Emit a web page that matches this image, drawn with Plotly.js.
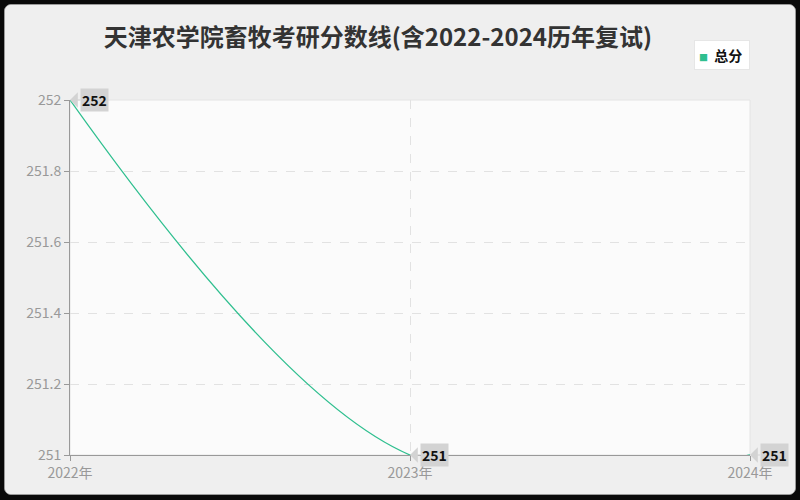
<!DOCTYPE html>
<html>
<head>
<meta charset="utf-8">
<script src="https://cdn.plot.ly/plotly-3.0.1.min.js"></script>
<style>
  html, body { margin: 0; padding: 0; background: #0a0a0a; }
  #frame {
    position: absolute; left: 4px; top: 4px;
    width: 790px; height: 489px;
    border: 1px solid #9a9a9a; border-radius: 7px;
    overflow: hidden; background: #efefef;
  }
</style>
</head>
<body>
<div id="frame"><div id="chart"></div></div>
<script>
// data
var years = [2022, 2023, 2024];
var yearLabels = ['2022年', '2023年', '2024年'];
var scores = [252, 251, 251];
var seriesName = '总分';
var titleText = '天津农学院畜牧考研分数线(含2022-2024历年复试)';

var green = '#2fbf8f';
var tagGray = '#d3d3d3';
var font = 'Noto Sans CJK SC, Noto Sans, sans-serif';

var line = {
    x: years, y: scores, type: 'scatter', mode: 'lines', name: seriesName,
    line: {color: green, width: 1.3, shape: 'spline', smoothing: 1},
    showlegend: false, hoverinfo: 'skip'
};

var annotations = [];
// value tags: grey box with a pointer aimed at the point
for (var i = 0; i < years.length; i++) {
    annotations.push({
        x: years[i], y: scores[i], xref: 'x', yref: 'y',
        text: '<b>' + scores[i] + '</b>',
        showarrow: true, arrowhead: 1, arrowsize: 2.6, arrowwidth: 1,
        arrowcolor: tagGray, standoff: 0, ax: 10, ay: 0,
        xanchor: 'left', yanchor: 'middle',
        bgcolor: tagGray, borderpad: 1,
        font: {family: font, size: 14, color: '#111'}
    });
}
// legend box (top right)
annotations.push({
    xref: 'paper', yref: 'paper', x: 1, y: 1.168, xanchor: 'right', yanchor: 'top',
    text: '<span style="color:' + green + ';font-size:9px">■</span>  <b>' + seriesName + '</b> ',
    showarrow: false, bgcolor: '#ffffff', bordercolor: '#e6e6e6', borderwidth: 1, borderpad: 4,
    font: {family: font, size: 14, color: '#111'}
});

var layout = {
    width: 790, height: 489,
    margin: {l: 65, r: 45, t: 95, b: 39},
    paper_bgcolor: '#efefef',
    plot_bgcolor: '#fbfbfb',
    font: {family: font},
    showlegend: false,
    title: {
        text: titleText, xref: 'container', x: 0.472, xanchor: 'center',
        yref: 'container', y: 0.934, yanchor: 'middle',
        font: {family: font, size: 24, color: '#333', weight: 'bold'}
    },
    xaxis: {
        range: [2022, 2024], tickvals: years, ticktext: yearLabels,
        showline: true, linecolor: '#999', linewidth: 1,
        ticks: 'outside', ticklen: 5, tickcolor: '#999',
        showgrid: true, gridcolor: '#e2e2e2', griddash: 'dash',
        zeroline: false, fixedrange: true,
        tickfont: {size: 14, color: '#999'}
    },
    yaxis: {
        range: [251, 252], dtick: 0.2,
        showline: true, linecolor: '#999', linewidth: 1,
        ticks: 'outside', ticklen: 5, tickcolor: '#999',
        showgrid: true, gridcolor: '#e2e2e2', griddash: 'dash',
        zeroline: false, fixedrange: true,
        tickfont: {size: 14, color: '#999'}
    },
    shapes: [{
        type: 'rect', xref: 'paper', yref: 'paper', x0: 0, x1: 1, y0: 0, y1: 1,
        line: {color: '#e4e4e4', width: 1}, layer: 'below'
    }],
    annotations: annotations
};

Plotly.newPlot('chart', [line], layout, {displayModeBar: false, staticPlot: true});
</script>
</body>
</html>
